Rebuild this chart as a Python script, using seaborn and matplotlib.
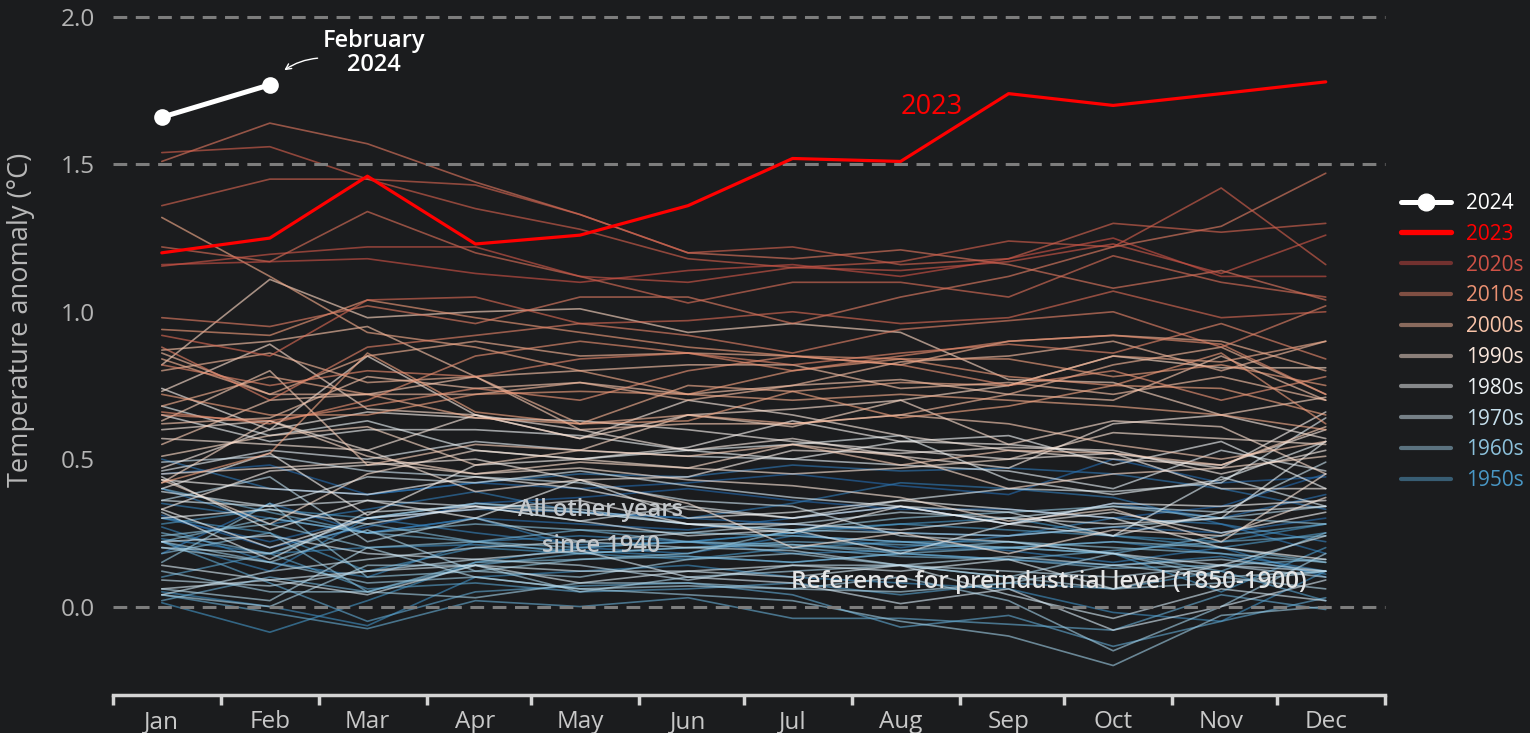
import matplotlib.pyplot as plt
from matplotlib.lines import Line2D
import matplotlib as mpl
import seaborn as sns
import pandas as pd


months = ['Jan', 'Feb', 'Mar', 'Apr', 'May', 'Jun',
          'Jul', 'Aug', 'Sep', 'Oct', 'Nov', 'Dec']

# global surface air temperature anomaly vs 1850-1900 (°C)
anom_2024 = [1.66, 1.77]
anom_2023 = [1.20, 1.25, 1.46, 1.23, 1.26, 1.36, 1.52, 1.51, 1.74, 1.70, 1.74, 1.78]

years_1940s = {
    1940: [0.31, 0.20, 0.27, 0.35, 0.37, 0.40, 0.36, 0.33, 0.33, 0.30, 0.34, 0.45],
    1941: [0.45, 0.48, 0.38, 0.42, 0.40, 0.42, 0.45, 0.41, 0.38, 0.50, 0.42, 0.44],
    1942: [0.30, 0.22, 0.30, 0.33, 0.32, 0.30, 0.28, 0.25, 0.24, 0.27, 0.25, 0.30],
    1943: [0.18, 0.35, 0.25, 0.30, 0.28, 0.26, 0.30, 0.34, 0.28, 0.35, 0.30, 0.38],
    1944: [0.50, 0.40, 0.38, 0.42, 0.45, 0.44, 0.48, 0.46, 0.47, 0.45, 0.40, 0.33],
    1945: [0.40, 0.28, 0.33, 0.39, 0.32, 0.30, 0.35, 0.42, 0.40, 0.37, 0.28, 0.18],
    1946: [0.35, 0.30, 0.25, 0.30, 0.20, 0.18, 0.24, 0.22, 0.19, 0.15, 0.20, 0.10],
    1947: [0.22, 0.12, 0.30, 0.25, 0.21, 0.22, 0.25, 0.20, 0.24, 0.30, 0.28, 0.22],
    1948: [0.27, 0.15, 0.10, 0.22, 0.24, 0.22, 0.18, 0.19, 0.20, 0.22, 0.18, 0.12],
    1949: [0.23, 0.18, 0.20, 0.21, 0.19, 0.17, 0.15, 0.18, 0.16, 0.14, 0.17, 0.11],
}
years_1950s = {
    1950: [0.05, 0.00, -0.065, 0.10, 0.12, 0.14, 0.10, 0.08, 0.06, -0.02, -0.05, 0.12],
    1951: [0.013, -0.087, 0.02, 0.15, 0.20, 0.22, 0.25, 0.28, 0.30, 0.24, 0.22, 0.28],
    1952: [0.30, 0.25, 0.12, 0.20, 0.18, 0.16, 0.20, 0.22, 0.22, 0.18, 0.05, 0.20],
    1953: [0.28, 0.33, 0.30, 0.35, 0.32, 0.28, 0.26, 0.28, 0.26, 0.24, 0.20, 0.25],
    1954: [0.10, 0.18, 0.06, 0.08, 0.05, 0.06, 0.08, 0.04, 0.08, 0.06, 0.12, 0.02],
    1955: [0.22, 0.08, -0.05, 0.05, 0.07, 0.08, 0.04, -0.07, -0.03, -0.135, -0.05, 0.03],
    1956: [0.04, -0.02, -0.075, 0.02, 0.00, 0.03, -0.04, -0.04, -0.06, -0.08, 0.04, -0.01],
    1957: [0.02, 0.10, 0.05, 0.14, 0.18, 0.20, 0.22, 0.21, 0.20, 0.18, 0.24, 0.28],
    1958: [0.40, 0.32, 0.25, 0.22, 0.26, 0.22, 0.21, 0.18, 0.16, 0.19, 0.22, 0.24],
    1959: [0.25, 0.18, 0.28, 0.22, 0.20, 0.22, 0.20, 0.17, 0.16, 0.13, 0.14, 0.16],
}
years_1960s = {
    1960: [0.18, 0.25, 0.05, 0.15, 0.16, 0.17, 0.15, 0.18, 0.20, 0.18, 0.12, 0.25],
    1961: [0.22, 0.30, 0.25, 0.28, 0.26, 0.25, 0.24, 0.22, 0.20, 0.22, 0.20, 0.15],
    1962: [0.24, 0.28, 0.20, 0.22, 0.18, 0.20, 0.21, 0.19, 0.22, 0.20, 0.18, 0.15],
    1963: [0.15, 0.35, 0.10, 0.12, 0.16, 0.18, 0.26, 0.30, 0.32, 0.34, 0.30, 0.28],
    1964: [0.22, 0.15, 0.08, 0.10, 0.06, 0.04, 0.02, -0.05, -0.10, -0.20, -0.03, 0.00],
    1965: [0.12, 0.05, 0.05, 0.03, 0.08, 0.08, 0.06, 0.10, 0.02, -0.15, 0.00, 0.18],
    1966: [0.20, 0.15, 0.26, 0.12, 0.10, 0.16, 0.18, 0.14, 0.10, 0.06, 0.08, 0.12],
    1967: [0.04, 0.00, 0.14, 0.14, 0.05, 0.10, 0.12, 0.14, 0.10, 0.18, 0.10, 0.12],
    1968: [0.06, 0.02, 0.20, 0.10, 0.06, 0.07, 0.06, 0.05, 0.08, 0.14, 0.10, 0.06],
    1969: [0.20, 0.18, 0.30, 0.35, 0.33, 0.28, 0.26, 0.25, 0.24, 0.27, 0.30, 0.34],
}
years_1970s = {
    1970: [0.36, 0.44, 0.22, 0.30, 0.22, 0.20, 0.19, 0.14, 0.17, 0.14, 0.16, 0.12],
    1971: [0.09, 0.07, 0.12, 0.16, 0.14, 0.09, 0.14, 0.14, 0.12, 0.10, 0.14, 0.10],
    1972: [0.04, 0.12, 0.16, 0.20, 0.22, 0.25, 0.28, 0.32, 0.30, 0.34, 0.32, 0.49],
    1973: [0.49, 0.51, 0.46, 0.44, 0.42, 0.36, 0.34, 0.24, 0.22, 0.18, 0.14, 0.12],
    1974: [0.06, 0.09, 0.12, 0.14, 0.12, 0.12, 0.10, 0.14, 0.04, -0.04, 0.06, 0.02],
    1975: [0.22, 0.24, 0.18, 0.16, 0.19, 0.10, 0.08, 0.01, 0.06, -0.08, 0.00, 0.09],
    1976: [0.14, 0.09, 0.04, 0.14, 0.08, 0.12, 0.14, 0.12, 0.16, 0.06, 0.14, 0.24],
    1977: [0.36, 0.34, 0.44, 0.42, 0.46, 0.41, 0.37, 0.34, 0.32, 0.24, 0.44, 0.34],
    1978: [0.39, 0.34, 0.36, 0.34, 0.29, 0.24, 0.26, 0.18, 0.28, 0.24, 0.32, 0.34],
    1979: [0.32, 0.16, 0.32, 0.34, 0.29, 0.34, 0.30, 0.36, 0.40, 0.39, 0.42, 0.64],
}
years_1980s = {
    1980: [0.46, 0.53, 0.50, 0.56, 0.53, 0.51, 0.50, 0.48, 0.46, 0.40, 0.53, 0.46],
    1981: [0.68, 0.58, 0.63, 0.53, 0.50, 0.53, 0.55, 0.58, 0.43, 0.38, 0.43, 0.56],
    1982: [0.30, 0.33, 0.28, 0.34, 0.32, 0.28, 0.28, 0.26, 0.30, 0.28, 0.30, 0.56],
    1983: [0.65, 0.56, 0.60, 0.60, 0.58, 0.53, 0.50, 0.56, 0.58, 0.48, 0.56, 0.40],
    1984: [0.44, 0.26, 0.36, 0.30, 0.43, 0.30, 0.32, 0.36, 0.33, 0.30, 0.20, 0.16],
    1985: [0.33, 0.20, 0.30, 0.33, 0.36, 0.28, 0.25, 0.34, 0.28, 0.32, 0.25, 0.32],
    1986: [0.43, 0.40, 0.38, 0.44, 0.40, 0.33, 0.30, 0.34, 0.28, 0.35, 0.34, 0.36],
    1987: [0.40, 0.52, 0.31, 0.48, 0.50, 0.54, 0.63, 0.56, 0.55, 0.52, 0.47, 0.66],
    1988: [0.74, 0.60, 0.66, 0.64, 0.63, 0.60, 0.56, 0.53, 0.50, 0.52, 0.40, 0.40],
    1989: [0.33, 0.46, 0.48, 0.50, 0.43, 0.44, 0.53, 0.52, 0.54, 0.53, 0.45, 0.53],
}
years_1990s = {
    1990: [0.47, 0.60, 0.85, 0.65, 0.60, 0.53, 0.57, 0.51, 0.47, 0.62, 0.65, 0.57],
    1991: [0.60, 0.63, 0.53, 0.65, 0.57, 0.70, 0.65, 0.58, 0.53, 0.50, 0.48, 0.60],
    1992: [0.57, 0.55, 0.53, 0.39, 0.43, 0.35, 0.20, 0.25, 0.18, 0.26, 0.24, 0.37],
    1993: [0.45, 0.47, 0.49, 0.45, 0.47, 0.43, 0.41, 0.37, 0.29, 0.33, 0.22, 0.45],
    1994: [0.43, 0.28, 0.45, 0.53, 0.50, 0.47, 0.45, 0.47, 0.50, 0.59, 0.57, 0.55],
    1995: [0.73, 0.89, 0.67, 0.65, 0.57, 0.65, 0.67, 0.70, 0.55, 0.63, 0.61, 0.45],
    1996: [0.42, 0.63, 0.51, 0.45, 0.49, 0.47, 0.55, 0.51, 0.40, 0.45, 0.47, 0.51],
    1997: [0.51, 0.58, 0.61, 0.48, 0.53, 0.65, 0.61, 0.70, 0.75, 0.85, 0.81, 0.81],
    1998: [0.82, 1.11, 0.98, 1.00, 1.01, 0.93, 0.96, 0.93, 0.77, 0.76, 0.65, 0.71],
    1999: [0.63, 0.80, 0.48, 0.55, 0.53, 0.51, 0.55, 0.48, 0.53, 0.52, 0.48, 0.61],
}
years_2000s = {
    2000: [0.55, 0.70, 0.72, 0.78, 0.60, 0.62, 0.62, 0.65, 0.62, 0.55, 0.50, 0.56],
    2001: [0.62, 0.64, 0.78, 0.74, 0.76, 0.72, 0.75, 0.77, 0.72, 0.70, 0.85, 0.70],
    2002: [0.87, 0.90, 0.95, 0.78, 0.80, 0.82, 0.82, 0.74, 0.76, 0.72, 0.78, 0.70],
    2003: [0.86, 0.72, 0.72, 0.72, 0.76, 0.70, 0.75, 0.83, 0.85, 0.90, 0.80, 0.90],
    2004: [0.80, 0.86, 0.76, 0.78, 0.62, 0.65, 0.62, 0.65, 0.72, 0.82, 0.88, 0.72],
    2005: [0.84, 0.72, 0.85, 0.90, 0.85, 0.86, 0.85, 0.82, 0.90, 0.92, 0.90, 0.80],
    2006: [0.68, 0.78, 0.72, 0.64, 0.62, 0.75, 0.73, 0.76, 0.75, 0.85, 0.83, 0.90],
    2007: [1.32, 1.12, 0.93, 0.88, 0.80, 0.72, 0.70, 0.72, 0.70, 0.68, 0.65, 0.60],
    2008: [0.42, 0.52, 0.86, 0.66, 0.62, 0.63, 0.73, 0.64, 0.68, 0.75, 0.74, 0.65],
    2009: [0.72, 0.65, 0.65, 0.72, 0.73, 0.72, 0.80, 0.84, 0.84, 0.78, 0.82, 0.75],
}
years_2010s = {
    2010: [0.94, 0.92, 1.04, 0.98, 0.93, 0.88, 0.85, 0.84, 0.78, 0.75, 0.86, 0.62],
    2011: [0.65, 0.63, 0.68, 0.74, 0.70, 0.80, 0.85, 0.82, 0.75, 0.80, 0.70, 0.78],
    2012: [0.66, 0.62, 0.70, 0.85, 0.90, 0.86, 0.80, 0.85, 0.90, 0.92, 0.89, 0.72],
    2013: [0.82, 0.75, 0.80, 0.78, 0.84, 0.86, 0.82, 0.86, 0.89, 0.86, 0.96, 0.84],
    2014: [0.88, 0.70, 0.88, 0.92, 0.96, 0.92, 0.86, 0.94, 0.97, 1.00, 0.88, 1.02],
    2015: [0.98, 0.95, 1.02, 0.96, 1.05, 1.05, 0.96, 1.05, 1.12, 1.22, 1.29, 1.47],
    2016: [1.51, 1.64, 1.57, 1.44, 1.33, 1.20, 1.18, 1.21, 1.16, 1.08, 1.14, 1.04],
    2017: [1.22, 1.17, 1.34, 1.20, 1.12, 1.03, 1.10, 1.10, 1.05, 1.19, 1.10, 1.05],
    2018: [0.92, 0.85, 1.04, 1.05, 0.96, 0.97, 1.00, 0.96, 0.98, 1.07, 0.98, 1.00],
    2019: [1.36, 1.45, 1.45, 1.43, 1.33, 1.20, 1.22, 1.16, 1.18, 1.30, 1.27, 1.30],
}
years_2020s = {
    2020: [1.54, 1.56, 1.45, 1.35, 1.28, 1.18, 1.15, 1.17, 1.24, 1.22, 1.42, 1.16],
    2021: [1.155, 1.195, 1.22, 1.22, 1.12, 1.10, 1.15, 1.14, 1.17, 1.23, 1.13, 1.26],
    2022: [1.16, 1.17, 1.18, 1.13, 1.10, 1.14, 1.16, 1.12, 1.18, 1.25, 1.12, 1.12],
}

decade_labels = ['2020s', '2010s', '2000s', '1990s', '1980s', '1970s', '1960s', '1950s']
decade_years = [2020, 2010, 2000, 1990, 1980, 1970, 1960, 1950]
ref_levels = [0.0, 1.5, 2.0]

bg = '#1b1c1e'
year_range = (1928, 2043)
cmap = mpl.colormaps['RdBu_r']
norm = mpl.colors.Normalize(*year_range)

# data points sit on the 15th of each month, ticks at month starts
mid_day = pd.to_datetime([f'2023-{m:02d}-15' for m in range(1, 13)]).dayofyear - 1
start_day = list(pd.to_datetime([f'2023-{m:02d}-01' for m in range(1, 13)]).dayofyear - 1) + [365]

rows = []
for block in [years_1940s, years_1950s, years_1960s, years_1970s,
              years_1980s, years_1990s, years_2000s, years_2010s, years_2020s]:
    for yr, vals in block.items():
        for d, v in zip(mid_day, vals):
            rows.append((yr, d, v))
df = pd.DataFrame(rows, columns=['Year', 'Day', 'Anomaly'])

sns.set_style('dark')
plt.rcParams['font.family'] = ['Open Sans', 'DejaVu Sans']

fig = plt.figure(figsize=(15.3, 7.33), dpi=100, facecolor=bg)
ax = fig.add_axes([113 / 1530, 38 / 733, 1272 / 1530, 678 / 733])
ax.set_facecolor(bg)

sns.lineplot(data=df, x='Day', y='Anomaly', hue='Year', units='Year', estimator=None,
             palette='RdBu_r', hue_norm=year_range, legend=False,
             linewidth=1.2, alpha=0.62, ax=ax, zorder=2)

for lvl in ref_levels:
    ax.axhline(lvl, color='#7d7d7d', lw=2.2, ls=(0, (4.5, 2.8)), zorder=3, clip_on=False)

sns.lineplot(x=mid_day, y=anom_2023, color='#ff0000', lw=2.3, ax=ax, zorder=4)
sns.lineplot(x=mid_day[:2], y=anom_2024, color='white', lw=3.6, marker='o',
             markersize=12, markeredgewidth=0, ax=ax, zorder=5)

ax.set_xlim(0, 365)
ax.set_ylim(-0.3, 2.0)
for s in ['left', 'right', 'top']:
    ax.spines[s].set_visible(False)
ax.spines['bottom'].set_color('#d4d4d4')
ax.spines['bottom'].set_linewidth(2.5)
ax.grid(False)

ax.set_xticks(mid_day, months)
ax.set_xticks(start_day, minor=True)
ax.tick_params(axis='x', which='major', bottom=False, length=0, pad=11,
               labelsize=17.5, labelcolor='#c8c8c8')
ax.tick_params(axis='x', which='minor', bottom=True, length=7, width=2.5,
               color='#d4d4d4', direction='out')
ax.set_yticks([0, 0.5, 1.0, 1.5, 2.0], ['0.0', '0.5', '1.0', '1.5', '2.0'])
ax.tick_params(axis='y', length=0, pad=13, labelsize=17.5, labelcolor='#b4b4b4')
ax.set_xlabel('')
ax.set_ylabel('Temperature anomaly (°C)', fontsize=19.5, color='#b8b8b8')
ax.yaxis.set_label_coords(-0.061, 0.553)

# annotations
ax.text(75, 1.878, 'February\n2024', color='white', fontsize=17, fontweight='semibold',
        ha='center', va='center', linespacing=1.05)
ax.annotate('', xy=(48.5, 1.814), xytext=(59.5, 1.861),
            arrowprops=dict(arrowstyle='->', color='white', lw=1.0,
                            connectionstyle='arc3,rad=0.15'))
ax.text(235, 1.695, '2023', color='#ff0000', fontsize=19.5, ha='center', va='center')
ax.text(140, 0.266, 'All other years\nsince 1940', color='#c4c8cc', fontsize=17,
        fontweight='semibold', ha='center', va='center', linespacing=1.7)
ax.text(194.5, 0.085, 'Reference for preindustrial level (1850-1900)', color='#e6e6e6',
        fontsize=17.5, fontweight='semibold', ha='left', va='center')

handles = [Line2D([], [], color='white', lw=3.6, marker='o', markersize=12),
           Line2D([], [], color='#ff0000', lw=3.8)]
labels = ['2024', '2023']
text_colors = ['white', '#ff0000']
for lab, yr in zip(decade_labels, decade_years):
    handles.append(Line2D([], [], color=cmap(norm(yr + 4)), lw=3, alpha=0.5))
    labels.append(lab)
    text_colors.append(cmap(norm(yr + 2)))
fig.legend(handles, labels, loc='upper left', bbox_to_anchor=(1401 / 1530, 1 - 193 / 733),
           frameon=False, fontsize=15, handlelength=2.4, handletextpad=0.7,
           labelspacing=0.47, borderpad=0, borderaxespad=0, labelcolor=text_colors)

fig.savefig('out.png', dpi=100, facecolor=bg)
